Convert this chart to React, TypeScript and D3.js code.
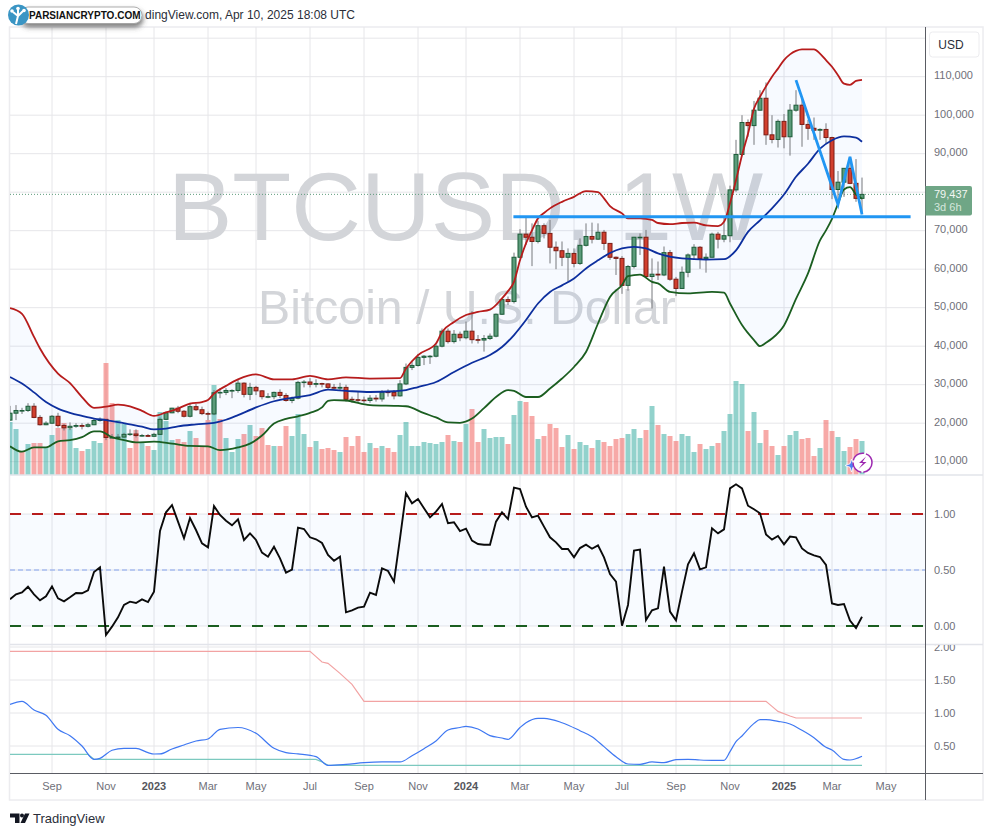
import React from "react";
import * as d3 from "d3";

// ---------- data (weekly bars from Jul 18 2022, prices in thousand USD) ----------
const firstOpen = 20.8;
const closes = [22.6,23.3,23.3,24.4,21.5,19.6,20.0,21.8,19.4,18.8,19.2,19.4,19.2,19.6,20.7,21.0,16.3,16.3,16.4,17.1,17.2,16.8,16.8,16.6,17.1,21.0,22.7,23.9,23.1,21.8,24.3,23.5,22.5,22.4,27.9,28.0,28.5,28.5,30.4,27.5,29.3,28.4,26.9,26.9,28.0,27.2,25.9,26.5,30.6,30.7,30.1,30.3,30.2,29.3,29.1,29.3,26.2,26.1,26.0,25.9,26.5,26.3,28.1,28.0,27.1,30.2,34.5,35.0,37.1,37.4,37.4,40.0,43.9,41.2,43.1,42.2,43.9,41.7,41.6,42.0,42.6,48.3,52.1,51.6,63.1,69.1,68.3,67.2,71.3,69.3,65.7,64.8,63.1,64.1,61.5,66.2,68.5,67.8,69.6,66.7,63.1,62.8,55.8,60.7,68.3,68.3,58.1,58.7,58.5,64.3,57.4,55.0,59.2,63.7,65.7,62.8,63.1,69.1,67.8,68.7,80.6,89.8,98.1,97.3,101.3,104.4,94.9,93.7,98.4,94.4,101.3,102.6,97.6,96.6,96.1,96.3,94.2,80.7,82.6,86.2,82.3,78.4,79.44];
const highs = [24.5,24.7,24.0,25.2,25.2,22.1,20.5,22.1,22.7,19.8,20.2,20.0,20.0,20.1,21.2,21.5,21.0,17.2,17.2,17.5,18.4,18.4,17.2,17.2,17.5,21.5,23.0,24.0,24.5,23.4,25.3,25.0,24.3,23.0,28.6,29.1,29.1,28.8,31.2,30.6,30.5,29.7,28.6,27.8,28.2,28.8,27.8,26.9,31.0,31.2,31.7,31.4,30.5,30.4,30.2,30.5,30.0,26.9,28.2,26.9,27.3,27.3,28.6,28.8,28.6,31.2,35.5,36.0,38.0,37.7,37.7,40.7,44.6,44.6,44.2,43.8,46.4,49.1,42.9,42.9,43.3,48.5,52.4,52.9,64.3,70.4,73.8,71.9,72.6,71.9,72.8,67.2,67.2,65.4,65.4,68.0,71.9,72.1,71.9,70.2,66.7,63.3,63.4,61.1,68.4,69.3,70.2,62.8,62.0,65.9,65.0,58.0,60.7,64.1,66.5,66.0,64.1,69.5,69.7,73.6,81.7,93.6,100.0,98.9,103.7,106.5,108.5,100.0,98.9,100.3,102.9,106.5,104.8,98.8,99.4,96.6,97.9,94.4,85.5,86.2,89.2,88.6,83.8];
const lows = [20.7,20.8,22.4,22.9,21.3,19.4,19.5,19.8,18.9,18.1,18.2,18.8,18.4,18.9,19.5,20.4,15.6,16.1,16.0,16.2,16.7,16.3,16.5,16.4,16.4,17.0,20.8,22.6,22.6,21.5,21.5,23.2,22.1,20.8,22.1,26.5,27.3,26.5,27.9,26.7,26.0,27.3,26.2,26.5,26.2,26.5,25.6,25.2,26.2,29.3,29.3,29.3,29.3,28.8,28.8,28.6,25.6,25.3,25.3,25.3,25.3,25.6,25.6,26.9,26.2,26.9,29.9,33.8,34.7,35.1,35.4,37.1,39.7,40.7,40.7,41.3,41.8,40.7,40.7,38.6,41.6,42.3,48.1,50.7,51.1,62.8,66.3,60.8,66.7,68.0,61.5,60.0,60.8,56.8,60.5,61.1,65.9,66.7,67.6,65.0,62.4,58.5,53.6,54.4,60.2,63.7,58.1,49.8,57.2,58.2,57.0,53.0,55.0,57.9,62.4,60.1,59.1,65.2,65.4,67.0,67.0,80.1,89.6,94.4,92.3,101.2,92.3,92.7,91.6,91.4,89.5,100.9,91.8,93.6,93.6,93.6,92.7,78.2,78.0,78.8,82.1,77.5,74.5];
const volumes = [53,46,23,31,32,32,28,40,47,52,46,27,24,26,34,32,112,72,55,51,27,45,32,29,25,63,54,35,36,33,44,37,28,55,90,56,37,23,36,41,50,39,47,30,29,29,49,39,61,41,28,34,26,27,25,23,38,29,39,23,32,27,29,27,23,40,53,29,29,33,32,31,33,40,34,33,51,66,33,46,37,38,38,31,60,74,73,59,36,39,51,47,28,40,26,33,30,27,35,33,29,36,37,41,46,37,45,69,50,41,39,34,41,39,23,31,26,29,32,44,61,94,91,44,63,32,45,29,20,29,40,44,36,37,19,27,55,44,38,24,28,36,34];
const volumeUp = [1,1,0,1,0,0,1,1,0,0,1,1,0,1,1,1,0,0,1,1,0,0,1,0,1,1,1,1,0,0,1,0,0,0,1,0,1,1,1,0,1,0,0,0,1,0,0,1,1,1,0,1,0,0,0,1,0,0,0,0,1,0,1,0,0,1,1,1,1,1,1,1,1,0,1,0,1,0,0,1,1,1,1,0,1,1,0,0,1,0,0,0,0,1,0,1,1,0,1,0,0,0,0,1,1,1,0,1,0,1,0,0,1,1,1,0,1,1,0,1,1,1,1,0,1,1,0,0,1,0,1,1,0,0,0,1,0,0,1,1,0,0,1];

const upperBand: [number, number][] = [[0,49.9],[2,48.4],[4,42.4],[5,39.4],[8,32.9],[10,30.4],[12,26.8],[14,24.0],[16,24.3],[18,24.8],[20,24.4],[22,23.2],[24,21.9],[26,22.8],[28,23.8],[30,25.1],[32,25.5],[33,26.0],[34,27.7],[36,29.7],[38,31.4],[41,32.7],[44,31.4],[47,31.4],[50,32.3],[53,31.4],[56,31.9],[60,31.6],[65,31.7],[66,34.2],[68,37.7],[71,40.7],[72,43.7],[74,46.3],[76,48.1],[78,48.9],[80,49.5],[82,52.4],[83,54.3],[84,56.7],[85,62.3],[86,66.7],[87,70.1],[88,73.2],[89,74.6],[90,75.8],[92,77.5],[94,78.8],[96,80.3],[98,80.0],[99,78.4],[100,76.4],[102,74.5],[103,73.2],[105,73.2],[107,72.8],[108,72.0],[110,71.7],[112,72.0],[114,72.1],[116,71.4],[118,71.2],[119,72.3],[120,77.1],[121,83.1],[122,89.6],[123,95.2],[124,101.7],[125,104.8],[126,107.5],[127,110.0],[128,112.1],[129,114.3],[130,115.8],[131,116.7],[132,117.1],[134,117.1],[135,116.0],[136,114.3],[137,112.6],[138,110.4],[139,108.2],[140,107.9],[141,108.9],[142,109.2]];
const middleBand: [number, number][] = [[0,32.0],[2,30.3],[4,28.0],[6,25.5],[8,23.8],[10,22.7],[12,21.9],[14,21.2],[16,20.8],[18,20.3],[20,19.7],[22,19.1],[24,18.4],[26,18.6],[28,19.2],[31,19.7],[34,20.1],[36,20.9],[38,22.1],[41,24.1],[44,25.7],[47,26.6],[50,27.3],[53,28.7],[56,28.4],[60,28.1],[64,28.3],[66,28.6],[68,29.4],[71,30.7],[74,33.3],[77,35.7],[80,37.7],[82,39.8],[84,42.9],[86,46.8],[88,51.1],[90,54.1],[92,55.8],[94,57.6],[96,60.2],[98,62.3],[100,64.2],[102,65.4],[104,65.8],[106,65.4],[108,64.1],[112,62.8],[116,62.5],[119,62.6],[121,64.9],[123,69.7],[125,72.7],[127,75.8],[129,79.4],[131,84.0],[133,87.4],[135,91.3],[137,93.5],[139,94.5],[141,94.2],[142,93.1]];
const lowerBand: [number, number][] = [[0,14.0],[2,12.6],[4,13.7],[6,13.7],[8,15.3],[10,15.6],[12,16.4],[14,17.9],[15,17.9],[17,16.4],[19,15.6],[21,15.0],[24,15.2],[27,14.7],[30,14.1],[33,14.0],[35,13.0],[38,13.7],[40,14.7],[42,16.8],[44,19.9],[46,21.1],[48,21.8],[50,22.7],[52,24.1],[53,25.8],[54,26.0],[56,25.9],[60,24.7],[64,24.5],[66,24.4],[69,22.6],[71,21.5],[73,20.2],[75,20.1],[77,21.2],[79,23.9],[81,26.8],[83,28.6],[84,28.4],[86,26.8],[88,26.8],[90,29.0],[92,31.6],[94,34.6],[96,38.5],[98,45.9],[100,52.8],[102,55.9],[103,58.2],[105,58.6],[107,56.7],[108,56.3],[110,54.1],[113,53.7],[117,54.1],[119,53.9],[120,51.1],[122,45.5],[124,41.6],[125,40.0],[126,40.9],[127,42.0],[129,45.4],[131,52.3],[133,58.9],[135,67.5],[136,70.1],[137,73.1],[138,77.0],[139,80.7],[140,81.3],[141,79.4],[142,78.3]];

const percentB = [0.238,0.283,0.30,0.351,0.283,0.229,0.265,0.354,0.247,0.22,0.256,0.295,0.292,0.318,0.482,0.524,-0.08,-0.006,0.077,0.188,0.217,0.205,0.238,0.214,0.307,0.848,1.015,1.08,0.932,0.783,0.964,0.857,0.738,0.702,1.071,0.991,0.94,0.899,0.952,0.768,0.827,0.768,0.655,0.619,0.708,0.604,0.476,0.503,0.878,0.866,0.792,0.774,0.741,0.634,0.583,0.619,0.122,0.14,0.164,0.173,0.298,0.277,0.515,0.491,0.396,0.783,1.185,1.095,1.134,1.051,0.97,1.021,1.089,0.917,0.926,0.848,0.869,0.762,0.732,0.726,0.726,0.932,1.015,0.955,1.235,1.223,1.065,0.97,0.985,0.887,0.792,0.747,0.688,0.688,0.613,0.696,0.726,0.69,0.72,0.613,0.464,0.396,0.003,0.188,0.673,0.682,0.054,0.14,0.158,0.53,0.128,0.051,0.307,0.551,0.649,0.506,0.524,0.872,0.827,0.863,1.229,1.265,1.229,1.074,1.042,1.006,0.818,0.771,0.804,0.729,0.798,0.792,0.693,0.652,0.631,0.616,0.545,0.202,0.188,0.196,0.048,-0.018,0.083];

const bandwidth: [number, number][] = [[0,1.13],[2,1.177],[4,1.045],[6,0.965],[8,0.753],[10,0.657],[12,0.5],[14,0.298],[15,0.313],[17,0.435],[19,0.465],[21,0.465],[23,0.399],[24,0.379],[25,0.38],[27,0.455],[29,0.515],[31,0.576],[33,0.606],[35,0.753],[38,0.78],[41,0.692],[44,0.465],[46,0.399],[48,0.38],[51,0.338],[53,0.207],[56,0.222],[59,0.247],[62,0.258],[65,0.258],[67,0.353],[69,0.46],[71,0.576],[73,0.742],[75,0.78],[76,0.798],[78,0.757],[80,0.657],[82,0.621],[83,0.6],[85,0.78],[86,0.853],[88,0.92],[89,0.92],[92,0.853],[95,0.732],[97,0.641],[99,0.49],[101,0.338],[103,0.227],[105,0.222],[107,0.258],[109,0.247],[111,0.293],[113,0.298],[115,0.288],[117,0.283],[119,0.283],[120,0.414],[121,0.566],[122,0.652],[124,0.843],[125,0.9],[126,0.9],[128,0.874],[130,0.834],[132,0.738],[134,0.626],[136,0.48],[137,0.44],[139,0.298],[140,0.288],[142,0.344]];
const bandwidthHigh: [number, number][] = [[0,1.934],[50,1.934],[51,1.854],[52,1.773],[53,1.752],[55,1.6],[57,1.434],[59,1.177],[126,1.177],[127,1.1],[128,1.024],[130,0.955],[131,0.924],[142,0.924]];
const bandwidthLow: [number, number][] = [[0,0.374],[13,0.374],[14,0.298],[51,0.298],[52,0.26],[53,0.207],[142,0.207]];

const priceTicks = [110,100,90,80,70,60,50,40,30,20,10];
const priceLabels = [110,100,90,70,60,50,40,30,20,10];
const oscTicks = [1,0.5,0];
const widthTicks = [2,1.5,1,0.5];
const timeTickBars = [7,16,24,33,41,50,59,68,76,85,94,102,111,120,129,137,146];
const timeTickLabels = ["Sep","Nov","2023","Mar","May","Jul","Sep","Nov","2024","Mar","May","Jul","Sep","Nov","2025","Mar","May"];
const supportLevel = 73.6;
const supportFromBar = 83.9;
const supportToBar = 150.1;
const zigzag: [number, number][] = [[131,109.1],[138,76.8],[140,89.2],[142,74.2]];
const lastPrice = 79.437;
const lastPriceLabel = "79,437";
const countdownLabel = "3d 6h";

// ---------- scales ----------
const x = d3.scaleLinear().domain([0, 142]).range([10, 862]);
const priceY = d3.scaleLinear().domain([0, 110]).range([500.2, 76.7]);
const volY = d3.scaleLinear().domain([0, 112]).range([475, 363]);
const oscY = d3.scaleLinear().domain([0, 1]).range([626, 514]);
const widthY = d3.scaleLinear().domain([0, 2]).range([779, 647]);

const SANS = "'Liberation Sans', Arial, sans-serif";
const GRID = "#e6e6e9";
const AXIS = "#5a5c63";
const LABEL = "#6f7079";
const opens = [firstOpen, ...closes.slice(0, -1)];

const pxLine = (yScale: (v: number) => number, curve: d3.CurveFactory = d3.curveMonotoneX) =>
  d3.line<[number, number]>().x((d) => x(d[0])).y((d) => yScale(d[1])).curve(curve);

const bandFill = d3.line<[number, number]>()
  .x((d) => x(d[0])).y((d) => priceY(d[1]))([...upperBand, ...[...lowerBand].reverse()]) + "Z";

const percentLine = d3.line<number>().x((_, i) => x(i)).y((d) => oscY(d));

export default function App() {
  return (
    <svg width={993} height={836} style={{ position: "absolute", left: 0, top: 0, background: "#fff", fontFamily: SANS }}>
      <defs>
        <clipPath id="widthClip"><rect x={925} y={645} width={60} height={128} /></clipPath>
        <clipPath id="plotClip"><rect x={10} y={27} width={915} height={748} /></clipPath>
        <filter id="pillShadow" x="-20%" y="-50%" width="140%" height="250%">
          <feDropShadow dx={1} dy={3.5} stdDeviation={2.5} floodColor="#444" floodOpacity={0.7} />
        </filter>
      </defs>

      {/* header */}
      <text x={355} y={19} textAnchor="end" fontSize={12} fill="#2a2e39">dingView.com, Apr 10, 2025 18:08 UTC</text>

      {/* frame */}
      <rect x={9.5} y={27} width={973.5} height={773} fill="#fff" stroke="#ececef" strokeWidth={1.5} />

      {/* grid */}
      {timeTickBars.map((b, i) => (
        <line key={i} x1={x(b)} x2={x(b)} y1={27} y2={773} stroke={GRID} strokeWidth={1} />
      ))}
      {[...priceTicks, 120].map((t) => (
        <line key={t} x1={10} x2={925} y1={priceY(t)} y2={priceY(t)} stroke={GRID} />
      ))}
      {oscTicks.map((t) => (
        <line key={t} x1={10} x2={925} y1={oscY(t)} y2={oscY(t)} stroke={GRID} />
      ))}
      {widthTicks.map((t) => (
        <line key={t} x1={10} x2={925} y1={widthY(t)} y2={widthY(t)} stroke={GRID} />
      ))}

      {/* watermark */}
      <text x={168} y={240} fontSize={96.5} fill="#d3d5d9">BTCUSD, 1W</text>
      <text x={258} y={324} fontSize={48.2} fill="#d3d5d9">Bitcoin / U.S. Dollar</text>

      <g clipPath="url(#plotClip)">
        {/* volume */}
        {volumes.map((v, i) => (
          <rect key={i} x={x(i) - 2.5} width={5} y={volY(v)} height={475 - volY(v)}
            fill={volumeUp[i] ? "rgba(38,166,154,0.5)" : "rgba(239,83,80,0.5)"} />
        ))}

        {/* Bollinger fill */}
        <path d={bandFill} fill="rgba(33,120,243,0.035)" />

        {/* last price dotted */}
        <line x1={10} x2={925} y1={priceY(lastPrice)} y2={priceY(lastPrice)} stroke="#5e9c7c" strokeWidth={1} strokeDasharray="1 2" />

        {/* candles */}
        {closes.map((c, i) => {
          const o = opens[i];
          const up = c >= o;
          const top = priceY(Math.max(o, c));
          const bottom = priceY(Math.min(o, c));
          return (
            <g key={i}>
              <line x1={x(i)} x2={x(i)} y1={priceY(highs[i])} y2={priceY(lows[i])} stroke="#77797c" strokeWidth={1} />
              <rect x={x(i) - 2} width={4} y={top} height={Math.max(bottom - top, 0.6)}
                fill={up ? "#5b9b7a" : "#d13f2e"} stroke={up ? "#1d5c39" : "#7c1c14"} strokeWidth={1} />
            </g>
          );
        })}

        {/* Bollinger lines */}
        <path d={pxLine(priceY)(upperBand)!} fill="none" stroke="#b71c1c" strokeWidth={1.8} />
        <path d={pxLine(priceY)(middleBand)!} fill="none" stroke="#0d2f9e" strokeWidth={1.8} />
        <path d={pxLine(priceY)(lowerBand)!} fill="none" stroke="#1b5e20" strokeWidth={1.8} />

        {/* drawings */}
        <line x1={x(supportFromBar)} x2={x(supportToBar)} y1={priceY(supportLevel)} y2={priceY(supportLevel)} stroke="#2196f3" strokeWidth={3} />
        <path d={pxLine(priceY, d3.curveLinear)(zigzag)!} fill="none" stroke="#2196f3" strokeWidth={2.8} />

        {/* %B pane */}
        <rect x={10} width={915} y={oscY(1)} height={oscY(0) - oscY(1)} fill="rgba(33,120,243,0.03)" />
        <line x1={10} x2={925} y1={oscY(0.5)} y2={oscY(0.5)} stroke="#86a3ee" strokeWidth={1} strokeDasharray="5 3" />
        <line x1={10} x2={925} y1={oscY(1)} y2={oscY(1)} stroke="#b71c1c" strokeWidth={2} strokeDasharray="11 11" />
        <line x1={10} x2={925} y1={oscY(0)} y2={oscY(0)} stroke="#1b5e20" strokeWidth={2} strokeDasharray="11 11" />
        <path d={percentLine(percentB)!} fill="none" stroke="#0b0b0b" strokeWidth={1.9} />

        {/* bandwidth pane */}
        <path d={pxLine(widthY, d3.curveLinear)(bandwidthHigh)!} fill="none" stroke="#f2a3a3" strokeWidth={1.2} />
        <path d={pxLine(widthY, d3.curveLinear)(bandwidthLow)!} fill="none" stroke="#7cc9bf" strokeWidth={1.2} />
        <path d={pxLine(widthY)(bandwidth)!} fill="none" stroke="#3f78f2" strokeWidth={1.2} />
      </g>

      {/* separators & axes */}
      <line x1={10} x2={983} y1={475} y2={475} stroke="#e2e4ea" strokeWidth={1.5} />
      <line x1={10} x2={983} y1={644.5} y2={644.5} stroke="#e2e4ea" strokeWidth={1.5} />
      <line x1={10} x2={983} y1={773.5} y2={773.5} stroke={AXIS} strokeWidth={1} />
      <line x1={925.5} x2={925.5} y1={27} y2={800} stroke={AXIS} strokeWidth={1} />

      {/* price labels */}
      {priceLabels.map((t) => (
        <text key={t} x={934} y={priceY(t) + 2.5} fontSize={11} fill={LABEL}>{d3.format(",")(t * 1000)}</text>
      ))}
      {oscTicks.map((t) => (
        <text key={t} x={934} y={oscY(t) + 4} fontSize={11} fill={LABEL}>{t.toFixed(2)}</text>
      ))}
      <g clipPath="url(#widthClip)">
        {widthTicks.map((t) => (
          <text key={t} x={934} y={widthY(t) + 4} fontSize={11} fill={LABEL}>{t.toFixed(2)}</text>
        ))}
      </g>

      {/* time labels */}
      {timeTickLabels.map((l, i) => (
        <text key={i} x={x(timeTickBars[i])} y={790} textAnchor="middle" fontSize={11}
          fontWeight={/^\d/.test(l) ? 700 : 400} fill={/^\d/.test(l) ? "#55565c" : LABEL}>{l}</text>
      ))}

      {/* last price box */}
      <path d="M925.5 186 H970 a2 2 0 0 1 2 2 V213.5 a2 2 0 0 1 -2 2 H925.5 Z" fill="#6fa686" />
      <text x={934} y={198} fontSize={11} fill="#f2f7f4">{lastPriceLabel}</text>
      <text x={934} y={211} fontSize={11} fill="#d5e6dc">{countdownLabel}</text>

      {/* currency */}
      <rect x={929.5} y={32} width={49.5} height={25} rx={3} fill="#fff" stroke="#ececef" />
      <text x={951} y={49} textAnchor="middle" fontSize={12} fill="#2a2e39">USD</text>

      {/* event icons */}
      <path d="M851.5 459 L853 463.8 L858 465.5 L853 467.2 L851.5 472 L850 467.2 L845 465.5 L850 463.8 Z" fill="#4f7df0" stroke="#fff" strokeWidth={0.8} />
      <circle cx={862.5} cy={462.7} r={9.5} fill="#fff" stroke="#9c27b0" strokeWidth={1.5} strokeDasharray="14 2" />
      <path d="M866 456.5 L859 463 H863 L858.5 469 L866.5 462 H862.5 Z" fill="#9c27b0" />

      {/* footer */}
      <path d="M10 813.5 H19.5 V823 H15 V817.5 H10 Z M25 813.5 H29.5 L25 823 H20.5 Z" fill="#131722" />
      <circle cx={22} cy={815.5} r={2} fill="#131722" />
      <text x={33} y={823} fontSize={13} fill="#2a2e39">TradingView</text>

      {/* publisher badge */}
      <rect x={20} y={7} width={122} height={16.5} rx={8} fill="#fff" stroke="#9a9a9a" strokeWidth={0.8} filter="url(#pillShadow)" />
      <circle cx={18.5} cy={15} r={10.5} fill="#3a95c4" />
      <path d="M16 24 L18 16 L13 12 M18 16 L23 11 M18 16 L18 10" fill="none" stroke="#fff" strokeWidth={2} />
      <circle cx={12} cy={11} r={1.8} fill="#fff" />
      <circle cx={18} cy={8.5} r={1.8} fill="#fff" />
      <circle cx={24} cy={10.5} r={1.8} fill="#fff" />
      <text x={29} y={19} fontSize={10} fontWeight={700} fill="#111">PARSIANCRYPTO.COM</text>
    </svg>
  );
}
